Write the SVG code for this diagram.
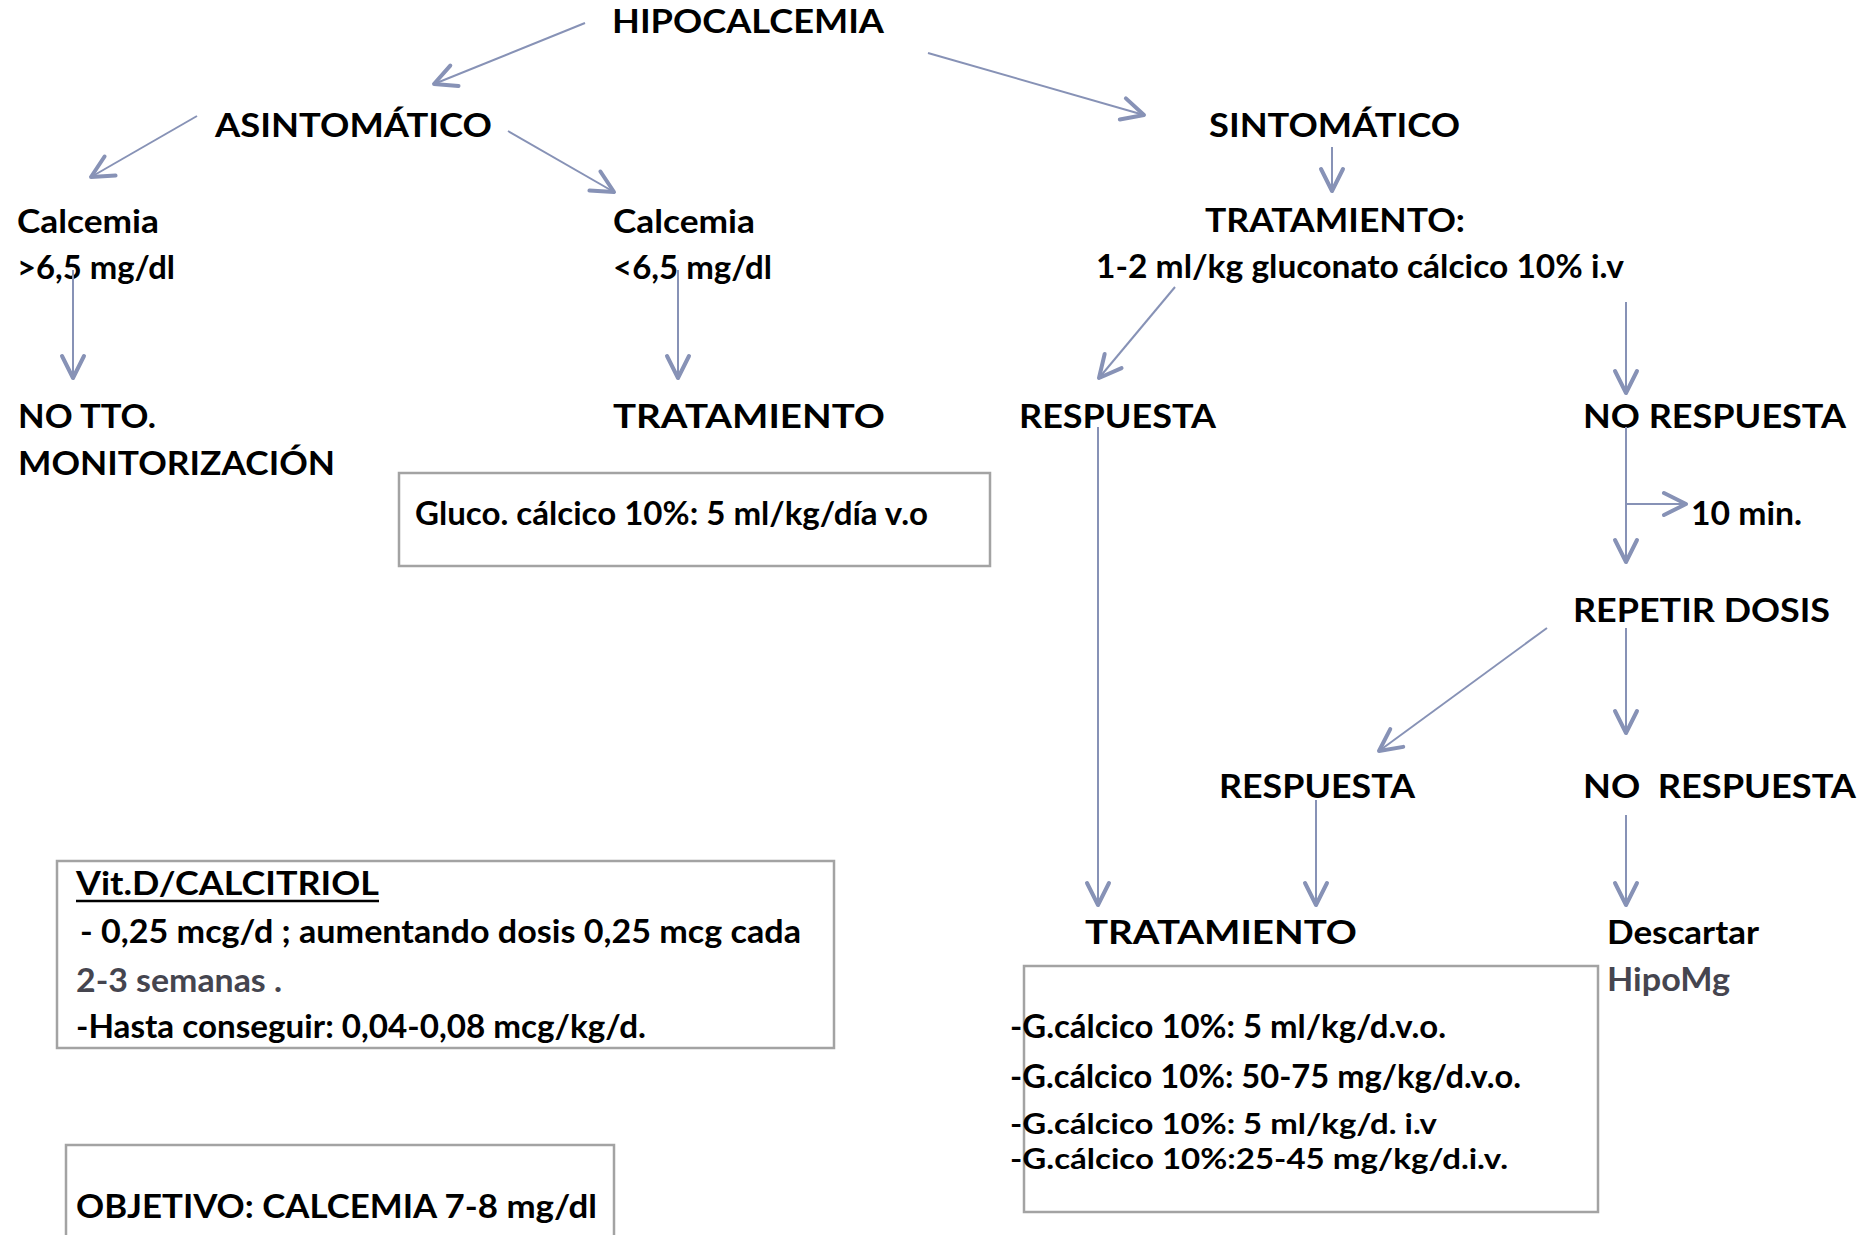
<svg xmlns="http://www.w3.org/2000/svg" width="1872" height="1235" viewBox="0 0 1872 1235">
<style>
.t{font-family:Lato,"Open Sans","Liberation Sans",sans-serif;font-weight:bold;font-size:32px;fill:#000}
.s{font-size:29px}
.g{fill:#45454f}
.box{fill:#fff;stroke:#a3a3a3;stroke-width:2.5}
.c{fill:none;stroke:#8792b6;stroke-width:2}
</style>
<defs>
<marker id="ah" markerUnits="userSpaceOnUse" viewBox="-28 -16 32 32" markerWidth="32" markerHeight="32" refX="0" refY="0" orient="auto" overflow="visible">
<path d="M-22,-11 L0,0 L-22,11" fill="none" stroke="#8792b6" stroke-width="4" stroke-linecap="round" stroke-linejoin="round"/>
</marker>
</defs>
<rect width="1872" height="1235" fill="#fff"/>

<g id="n-hipocalcemia"><text class="t" x="612" y="33" textLength="272" lengthAdjust="spacingAndGlyphs">HIPOCALCEMIA</text></g>
<g id="n-asintomatico"><text class="t" x="215" y="137" textLength="277" lengthAdjust="spacingAndGlyphs">ASINTOMÁTICO</text></g>
<g id="n-sintomatico"><text class="t" x="1209" y="137" textLength="251" lengthAdjust="spacingAndGlyphs">SINTOMÁTICO</text></g>
<g id="n-calcemia-alta">
<text class="t" x="17" y="233" textLength="142" lengthAdjust="spacingAndGlyphs">Calcemia</text>
<text class="t" x="17" y="279" textLength="158" lengthAdjust="spacingAndGlyphs">&gt;6,5 mg/dl</text>
</g>
<g id="n-calcemia-baja">
<text class="t" x="613" y="233" textLength="142" lengthAdjust="spacingAndGlyphs">Calcemia</text>
<text class="t" x="613" y="279" textLength="159" lengthAdjust="spacingAndGlyphs">&lt;6,5 mg/dl</text>
</g>
<g id="n-tratamiento-iv">
<text class="t" x="1205" y="232" textLength="260" lengthAdjust="spacingAndGlyphs">TRATAMIENTO:</text>
<text class="t" x="1096" y="278" textLength="528" lengthAdjust="spacingAndGlyphs">1-2 ml/kg gluconato cálcico 10% i.v</text>
</g>
<g id="n-no-tto">
<text class="t" x="18" y="428" textLength="138" lengthAdjust="spacingAndGlyphs">NO TTO.</text>
<text class="t" x="18" y="475" textLength="317" lengthAdjust="spacingAndGlyphs">MONITORIZACIÓN</text>
</g>
<g id="n-tratamiento-oral"><text class="t" x="613" y="428" textLength="272" lengthAdjust="spacingAndGlyphs">TRATAMIENTO</text></g>
<g id="n-gluco-box">
<rect class="box" x="399" y="473" width="591" height="93"/>
<text class="t" x="415" y="525" textLength="513" lengthAdjust="spacingAndGlyphs">Gluco. cálcico 10%: 5 ml/kg/día v.o</text>
</g>
<g id="n-respuesta-1"><text class="t" x="1019" y="428" textLength="197" lengthAdjust="spacingAndGlyphs">RESPUESTA</text></g>
<g id="n-no-respuesta-1"><text class="t" x="1583" y="428" textLength="263" lengthAdjust="spacingAndGlyphs">NO RESPUESTA</text></g>
<g id="n-10min"><text class="t" x="1691" y="525" textLength="111" lengthAdjust="spacingAndGlyphs">10 min.</text></g>
<g id="n-repetir"><text class="t" x="1573" y="622" textLength="257" lengthAdjust="spacingAndGlyphs">REPETIR DOSIS</text></g>
<g id="n-respuesta-2"><text class="t" x="1219" y="798" textLength="196" lengthAdjust="spacingAndGlyphs">RESPUESTA</text></g>
<g id="n-no-respuesta-2"><text class="t" x="1583" y="798" textLength="273" lengthAdjust="spacingAndGlyphs" xml:space="preserve">NO  RESPUESTA</text></g>
<g id="n-tratamiento-final"><text class="t" x="1085" y="944" textLength="272" lengthAdjust="spacingAndGlyphs">TRATAMIENTO</text></g>
<g id="n-descartar">
<text class="t" x="1607" y="944" textLength="152" lengthAdjust="spacingAndGlyphs">Descartar</text>
<text class="t g" x="1607" y="991" textLength="123" lengthAdjust="spacingAndGlyphs">HipoMg</text>
</g>
<g id="n-tratamiento-box">
<rect class="box" x="1024" y="966" width="574" height="246"/>
<text class="t" x="1010" y="1038" textLength="436" lengthAdjust="spacingAndGlyphs">-G.cálcico 10%: 5 ml/kg/d.v.o.</text>
<text class="t" x="1010" y="1088" textLength="511" lengthAdjust="spacingAndGlyphs">-G.cálcico 10%: 50-75 mg/kg/d.v.o.</text>
<text class="t s" x="1010" y="1134" textLength="427" lengthAdjust="spacingAndGlyphs">-G.cálcico 10%: 5 ml/kg/d. i.v</text>
<text class="t s" x="1010" y="1169" textLength="498" lengthAdjust="spacingAndGlyphs">-G.cálcico 10%:25-45 mg/kg/d.i.v.</text>
</g>
<g id="n-vitd-box">
<rect class="box" x="57" y="861" width="777" height="187"/>
<text class="t" x="76" y="895" textLength="303" lengthAdjust="spacingAndGlyphs">Vit.D/CALCITRIOL</text>
<line x1="76" y1="901" x2="379" y2="901" stroke="#000" stroke-width="2.5"/>
<text class="t" x="80" y="943" textLength="721" lengthAdjust="spacingAndGlyphs">- 0,25 mcg/d ; aumentando dosis 0,25 mcg cada</text>
<text class="t g" x="76" y="992" textLength="206" lengthAdjust="spacingAndGlyphs">2-3 semanas .</text>
<text class="t" x="76" y="1038" textLength="570" lengthAdjust="spacingAndGlyphs">-Hasta conseguir: 0,04-0,08 mcg/kg/d.</text>
</g>
<g id="n-objetivo-box">
<rect class="box" x="66" y="1145" width="548" height="110"/>
<text class="t" x="76" y="1218" textLength="521" lengthAdjust="spacingAndGlyphs">OBJETIVO: CALCEMIA 7-8 mg/dl</text>
</g>

<g id="connectors">
<line class="c" x1="585" y1="23" x2="434" y2="84" marker-end="url(#ah)"/>
<line class="c" x1="928" y1="53" x2="1144" y2="115" marker-end="url(#ah)"/>
<line class="c" x1="197" y1="116" x2="91" y2="177" marker-end="url(#ah)"/>
<line class="c" x1="508" y1="131" x2="614" y2="192" marker-end="url(#ah)"/>
<line class="c" x1="1332" y1="147" x2="1332" y2="191" marker-end="url(#ah)"/>
<line class="c" x1="73" y1="270" x2="73" y2="378" marker-end="url(#ah)"/>
<line class="c" x1="678" y1="270" x2="678" y2="378" marker-end="url(#ah)"/>
<line class="c" x1="1175" y1="287" x2="1099" y2="378" marker-end="url(#ah)"/>
<line class="c" x1="1626" y1="302" x2="1626" y2="393" marker-end="url(#ah)"/>
<line class="c" x1="1098" y1="427" x2="1098" y2="905" marker-end="url(#ah)"/>
<line class="c" x1="1626" y1="427" x2="1626" y2="562" marker-end="url(#ah)"/>
<line class="c" x1="1626" y1="504" x2="1686" y2="504" marker-end="url(#ah)"/>
<line class="c" x1="1547" y1="628" x2="1379" y2="751" marker-end="url(#ah)"/>
<line class="c" x1="1626" y1="628" x2="1626" y2="733" marker-end="url(#ah)"/>
<line class="c" x1="1316" y1="800" x2="1316" y2="905" marker-end="url(#ah)"/>
<line class="c" x1="1626" y1="815" x2="1626" y2="905" marker-end="url(#ah)"/>
</g>
</svg>
